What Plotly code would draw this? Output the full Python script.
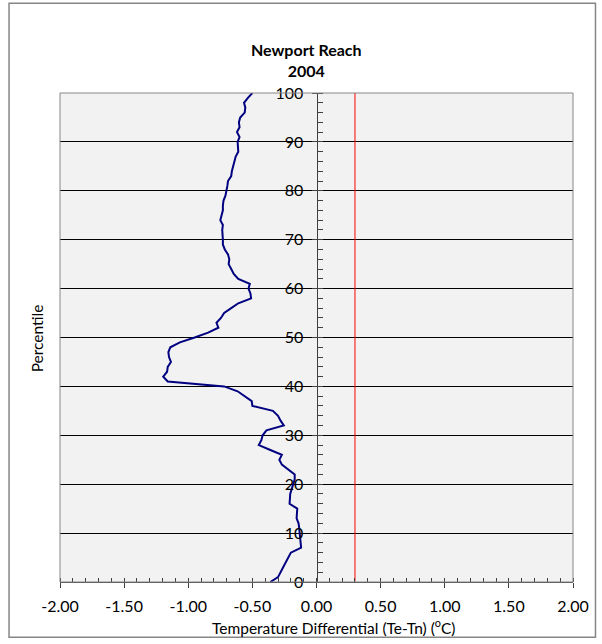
import plotly.graph_objects as go

# Percentile profile of the temperature differential (Te - Tn), Newport Reach 2004
percentile = [0, 1, 3, 4, 6, 7, 9, 11, 12, 13, 15, 16, 18, 19, 21, 22, 23, 24, 25, 26,
              27, 28, 29, 30, 31, 32, 33, 34, 35, 36, 37, 38, 39, 40, 41, 42, 43, 44, 45,
              46, 47, 48, 49, 50, 51, 52, 53, 54, 55, 56, 57, 58, 59, 60, 61, 62, 63, 64,
              65, 66, 67, 68, 69, 70, 71, 72, 73, 74, 75, 76, 77, 78, 79, 80, 81, 82, 83,
              84, 85, 86, 87, 88, 89, 90, 91, 92, 93, 94, 95, 96, 97, 98, 99, 100]
differential = [-0.36, -0.30, -0.26, -0.24, -0.20, -0.12, -0.125, -0.135, -0.14, -0.155,
                -0.15, -0.21, -0.205, -0.195, -0.17, -0.17, -0.22, -0.27, -0.29, -0.27,
                -0.36, -0.45, -0.43, -0.42, -0.39, -0.255, -0.28, -0.30, -0.34, -0.50,
                -0.505, -0.56, -0.615, -0.72, -1.16, -1.195, -1.165, -1.16, -1.135,
                -1.15, -1.155, -1.14, -1.065, -0.95, -0.845, -0.765, -0.78, -0.745, -0.72,
                -0.665, -0.61, -0.51, -0.515, -0.53, -0.52, -0.61, -0.645, -0.665,
                -0.685, -0.68, -0.69, -0.715, -0.73, -0.73, -0.735, -0.735, -0.73, -0.75,
                -0.74, -0.73, -0.73, -0.725, -0.71, -0.70, -0.695, -0.69, -0.665, -0.66,
                -0.65, -0.64, -0.63, -0.61, -0.61, -0.615, -0.60, -0.62, -0.60, -0.605,
                -0.595, -0.56, -0.555, -0.565, -0.535, -0.50]

# Reference threshold line
threshold_x = [0.3, 0.3]
threshold_y = [0, 100]

# Axis ticks
x_tick_values = [-2.0, -1.5, -1.0, -0.5, 0.0, 0.5, 1.0, 1.5, 2.0]
x_tick_labels = ["-2.00", "-1.50", "-1.00", "-0.50", "0.00", "0.50", "1.00", "1.50", "2.00"]
y_tick_values = [0, 10, 20, 30, 40, 50, 60, 70, 80, 90, 100]

title_lines = ["Newport Reach", "2004"]
x_title = "Temperature Differential (Te-Tn) (<sup>o</sup>C)"
y_title = "Percentile"

FONT = "Lato"
W, H = 602, 644
ML, MR, MT, MB = 60, 28.5, 92.7, 62.3
PW, PH = W - ML - MR, H - MT - MB


def px_to_paper_x(px):
    return (px - ML) / PW


def py_to_paper_y(py):
    return (H - MB - py) / PH


fig = go.Figure()
fig.add_trace(go.Scatter(x=differential, y=percentile, mode="lines",
                         line=dict(color="#000080", width=2), showlegend=False,
                         hoverinfo="skip"))
fig.add_trace(go.Scatter(x=threshold_x, y=threshold_y, mode="lines", yaxis="y2",
                         line=dict(color="#FF0000", width=1), showlegend=False,
                         hoverinfo="skip"))

fig.update_layout(
    width=W, height=H,
    margin=dict(l=ML, r=MR, t=MT, b=MB, pad=0),
    paper_bgcolor="white",
    plot_bgcolor="#F2F2F2",
    font=dict(family=FONT, size=16, color="black"),
    xaxis=dict(
        range=[-2, 2], tickmode="array", tickvals=x_tick_values, ticktext=x_tick_labels,
        showgrid=False, zeroline=False,
        showline=True, linecolor="#404040", linewidth=1,
        ticks="outside", ticklen=5, tickcolor="#404040",
        minor=dict(ticks="inside", ticklen=4, dtick=0.1, tick0=-2, tickcolor="#404040",
                   showgrid=False),
        tickfont=dict(size=16), ticklabelstandoff=5,
    ),
    yaxis=dict(
        range=[0, 100], tickmode="array", tickvals=y_tick_values,
        anchor="free", position=0.5, side="left",
        showgrid=True, gridcolor="#000000", gridwidth=1, zeroline=False,
        showline=True, linecolor="#404040", linewidth=1,
        ticks="outside", ticklen=5, tickcolor="#404040",
        minor=dict(ticks="inside", ticklen=5, dtick=2, tick0=0, tickcolor="#404040",
                   showgrid=False),
        tickfont=dict(size=16), ticklabelstandoff=5,
    ),
    yaxis2=dict(
        range=[0, 100], tickmode="array", tickvals=y_tick_values,
        anchor="free", position=0.5, side="right",
        overlaying="y", showgrid=False, zeroline=False, showline=False,
        ticks="outside", ticklen=5, tickcolor="#404040", showticklabels=False,
    ),
    shapes=[
        # plot-area frame
        dict(type="rect", xref="paper", yref="paper", x0=0, x1=1, y0=0, y1=1,
             line=dict(color="#868686", width=1), layer="above"),
        # chart-area frame
        dict(type="rect", xref="paper", yref="paper",
             x0=px_to_paper_x(9), x1=px_to_paper_x(596),
             y0=py_to_paper_y(637), y1=py_to_paper_y(3),
             line=dict(color="#868686", width=1.5), layer="below"),
    ],
    annotations=[
        dict(text="<b>" + "<br>".join(title_lines) + "</b>", xref="paper", yref="paper",
             x=px_to_paper_x(307), y=py_to_paper_y(60), xanchor="center",
             yanchor="middle", showarrow=False, font=dict(size=16)),
        dict(text=x_title, xref="paper", yref="paper",
             x=px_to_paper_x(334.5), y=py_to_paper_y(626), xanchor="center",
             yanchor="middle", showarrow=False, font=dict(size=15.5)),
        dict(text=y_title, xref="paper", yref="paper", textangle=-90,
             x=px_to_paper_x(37), y=py_to_paper_y(338), xanchor="center",
             yanchor="middle", showarrow=False, font=dict(size=15.5)),
    ],
)

fig.write_html("out.html")
